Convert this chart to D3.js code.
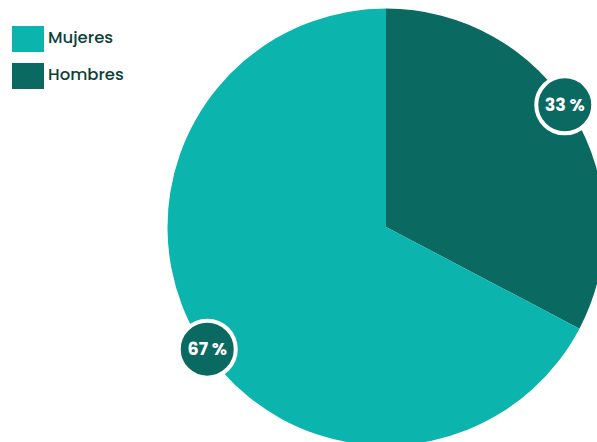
<!DOCTYPE html>
<html><head><meta charset="utf-8">
<script src="https://cdn.jsdelivr.net/npm/d3@7"></script>
<style>html,body{margin:0;padding:0;background:#fff;overflow:hidden}</style>
</head><body>
<svg id="chart" width="597" height="442"></svg>
<script>
const categories = ["Hombres", "Mujeres"];
const values = [32.7, 67.3];
const labels = ["33 %", "67 %"];
const legendOrder = ["Mujeres", "Hombres"];
const colors = {"Mujeres": "#0bb4ac", "Hombres": "#0a6961"};

const svg = d3.select("#chart");
const font = "Poppins, Inter, 'Open Sans', sans-serif";
const cx = 386, cy = 227, R = 218.5;

const pie = d3.pie().sort(null).value(d => d.v);
const data = categories.map((c, i) => ({c, v: values[i], l: labels[i]}));
const arcs = pie(data);
const arc = d3.arc().innerRadius(0).outerRadius(R);

const g = svg.append("g").attr("transform", `translate(${cx},${cy})`);
g.selectAll("path.slice").data(arcs).enter().append("path")
  .attr("class", "slice")
  .attr("d", arc)
  .attr("fill", d => colors[d.data.c]);

const labelR = 216.5;
const off = -3.2 * Math.PI / 180;
const lab = g.selectAll("g.lab").data(arcs).enter().append("g")
  .attr("class", "lab")
  .attr("transform", d => {
    const a = (d.startAngle + d.endAngle) / 2 + off;
    return `translate(${labelR * Math.sin(a)},${-labelR * Math.cos(a)})`;
  });
lab.append("circle").attr("r", 28.5)
  .attr("fill", colors["Hombres"]).attr("stroke", "#fff").attr("stroke-width", 4);
lab.append("text").text(d => d.data.l)
  .attr("text-anchor", "middle").attr("dy", "0.36em")
  .attr("fill", "#fff").attr("font-family", font)
  .attr("font-weight", "bold").attr("font-size", 17.5);

const leg = svg.append("g");
const li = leg.selectAll("g").data(legendOrder).enter().append("g")
  .attr("transform", (d, i) => `translate(12,${26 + i * 37})`);
li.append("rect").attr("width", 32).attr("height", 26).attr("fill", d => colors[d]);
li.append("text").text(d => d).attr("x", 36).attr("y", 11).attr("dy", "0.36em")
  .attr("fill", "#0d3f3b").attr("font-family", font).attr("font-size", 16.5)
  .attr("font-weight", 500);
</script>
</body></html>
